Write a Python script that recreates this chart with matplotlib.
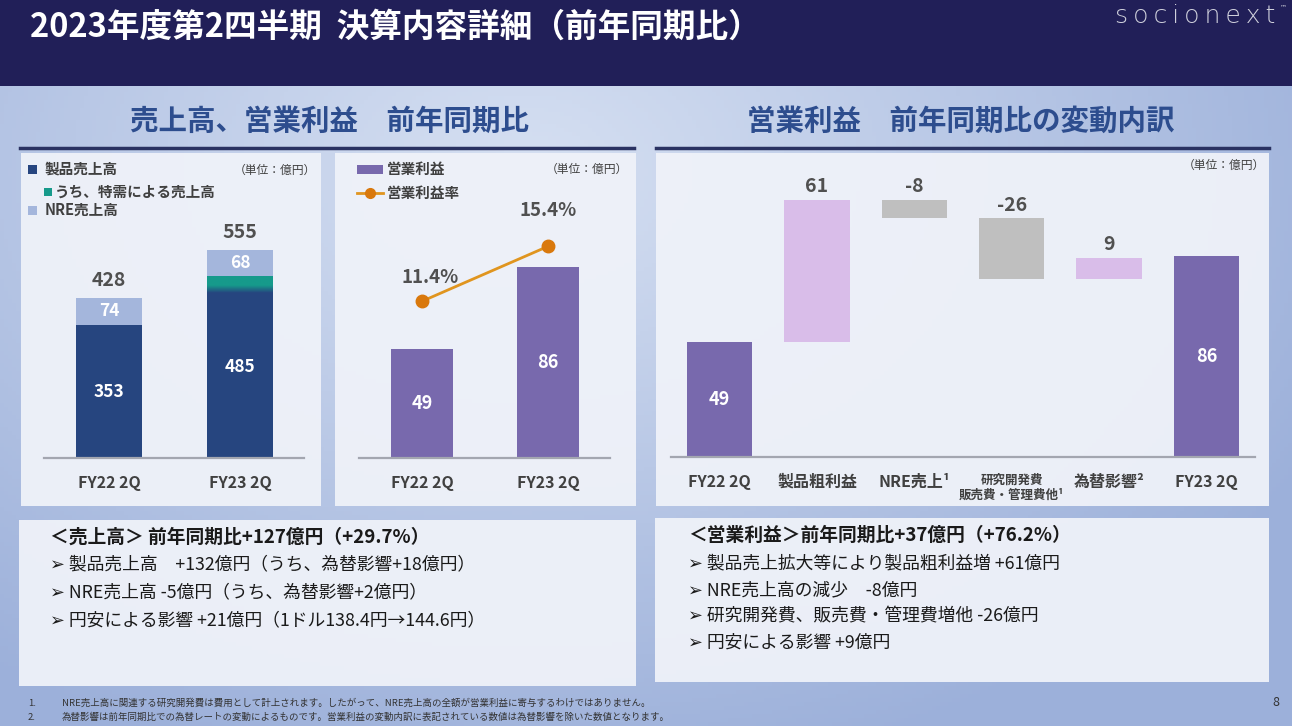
import matplotlib.pyplot as plt
import numpy as np
from matplotlib.patches import Rectangle
from matplotlib.colors import to_rgb

plt.rcParams['font.family'] = ['Noto Sans CJK JP', 'DejaVu Sans']

# ---- data ----
periods = ['FY22 2Q', 'FY23 2Q']
product_sales = [353, 485]
special_demand = [0, 45]      # part of product sales, drawn as a band
nre_sales = [74, 68]
total_sales = [428, 555]

op_income = [49, 86]
op_margin = [11.4, 15.4]

bridge_labels = ['FY22 2Q', '製品粗利益', 'NRE売上¹', '研究開発費\n販売費・管理費他¹', '為替影響²', 'FY23 2Q']
bridge_values = [49, 61, -8, -26, 9, 86]

sales_notes = ['＜売上高＞ 前年同期比+127億円（+29.7%）',
               '➢ 製品売上高　+132億円（うち、為替影響+18億円）',
               '➢ NRE売上高 -5億円（うち、為替影響+2億円）',
               '➢ 円安による影響 +21億円（1ドル138.4円→144.6円）']
profit_notes = ['＜営業利益＞前年同期比+37億円（+76.2%）',
                '➢ 製品売上拡大等により製品粗利益増 +61億円',
                '➢ NRE売上高の減少　-8億円',
                '➢ 研究開発費、販売費・管理費増他 -26億円',
                '➢ 円安による影響 +9億円']
footnotes = ['NRE売上高に関連する研究開発費は費用として計上されます。したがって、NRE売上高の全額が営業利益に寄与するわけではありません。',
             '為替影響は前年同期比での為替レートの変動によるものです。営業利益の変動内訳に表記されている数値は為替影響を除いた数値となります。']

# ---- colours ----
navy = '#26457f'
teal = '#169a8b'
nre_blue = '#a4b6dc'
purple = '#7869ad'
up_col = '#d9bde9'
down_col = '#bfbfbf'
line_col = '#e0951f'
dark = '#404040'
axis_col = '#a3a6b0'

W, H = 1292, 726
fig = plt.figure(figsize=(W / 100, H / 100), dpi=100)

bg = fig.add_axes([0, 0, 1, 1])
yy, xx = np.mgrid[0:H:4, 0:W:4]
d = np.clip(np.sqrt(((xx - 520) / 900) ** 2 + ((yy - 170) / 620) ** 2), 0, 1)
c_in, c_out = np.array(to_rgb('#d6e0f2')), np.array(to_rgb('#9cb0da'))
bg.imshow(c_in + (c_out - c_in) * d[..., None], extent=(0, W, H, 0), aspect='auto', zorder=0)
bg.set_xlim(0, W)
bg.set_ylim(H, 0)
bg.axis('off')

# header
bg.add_patch(Rectangle((0, 0), W, 86, fc='#211f58', ec='none', zorder=1))
bg.text(30, 27, '2023年度第2四半期  決算内容詳細（前年同期比）', color='white',
        fontsize=23.5, fontweight='bold', va='center', zorder=2)
bg.text(1115, 16, '\u2009'.join('socionext'), color='#cfd0dc', fontsize=18, family='DejaVu Sans',
        fontweight='light', va='center', zorder=2)
bg.text(1280, 7, '™', color='#cfd0dc', fontsize=5, family='DejaVu Sans', va='center', zorder=2)

# section titles
for cx, t in [(330, '売上高、営業利益　前年同期比'), (961, '営業利益　前年同期比の変動内訳')]:
    bg.text(cx, 122, t, color='#2d4d8e', fontsize=20.5, fontweight='bold', ha='center', va='center')
bg.plot([20, 634], [148, 148], color='#2a3262', lw=2.5)
bg.plot([656, 1269], [148, 148], color='#2a3262', lw=2.5)

# panels
for x0, y0, x1, y1 in [(21, 153, 321, 506), (335, 153, 636, 506), (656, 153, 1269, 506),
                       (19, 520, 636, 686), (655, 518, 1269, 682)]:
    bg.add_patch(Rectangle((x0, y0), x1 - x0, y1 - y0, fc='#eff2f9', ec='none', alpha=0.95, zorder=1))


def px_axes(x0, y0, x1, y1):
    a = fig.add_axes([x0 / W, 1 - y1 / H, (x1 - x0) / W, (y1 - y0) / H])
    a.set_facecolor('none')
    for s in ['top', 'left', 'right']:
        a.spines[s].set_visible(False)
    a.spines['bottom'].set_color(axis_col)
    a.spines['bottom'].set_linewidth(1.6)
    a.set_yticks([])
    a.tick_params(axis='x', length=0, pad=12, labelsize=11.5, labelcolor=dark)
    return a


# ---- chart 1: sales ----
ax1 = px_axes(44, 160, 304, 458)
x = np.arange(len(periods))
ax1.bar(x, product_sales, 0.5, color=navy, zorder=2)
ax1.bar(x, nre_sales, 0.5, bottom=product_sales, color=nre_blue, zorder=2)
for i in x:
    if special_demand[i] > 0:
        n = 40
        t = np.linspace(0, 1, n)
        k = np.clip(t / 0.45, 0, 1)[:, None]
        grad = np.array(to_rgb(navy)) * (1 - k) + np.array(to_rgb(teal)) * k
        ax1.imshow(grad[:, None, :], extent=(i - 0.25, i + 0.25, product_sales[i] - special_demand[i], product_sales[i]),
                   origin='lower', aspect='auto', zorder=3, interpolation='bilinear')
    ax1.text(i, product_sales[i] / 2, str(product_sales[i]), color='white', fontsize=12.5,
             fontweight='bold', ha='center', va='center', zorder=4)
    ax1.text(i, product_sales[i] + nre_sales[i] / 2, str(nre_sales[i]), color='white', fontsize=12.5,
             fontweight='bold', ha='center', va='center', zorder=4)
    ax1.annotate(str(total_sales[i]), (i, total_sales[i]), xytext=(0, 12), textcoords='offset points',
                 ha='center', va='center', fontsize=14, fontweight='bold', color='#505050')
ax1.set_xlim(-0.496, 1.489)
ax1.set_ylim(0, 298 / 0.3757)
ax1.set_xticks(x, periods, fontweight='bold')

bg.add_patch(Rectangle((28, 165), 9, 9, fc=navy, ec='none', zorder=2))
bg.add_patch(Rectangle((44, 188), 8, 8, fc=teal, ec='none', zorder=2))
bg.add_patch(Rectangle((28, 206), 9, 9, fc=nre_blue, ec='none', zorder=2))
bg.text(45, 169, '製品売上高', fontsize=10.5, fontweight='bold', color=dark, va='center', zorder=2)
bg.text(55, 192, 'うち、特需による売上高', fontsize=10.5, fontweight='bold', color=dark, va='center', zorder=2)
bg.text(45, 210, 'NRE売上高', fontsize=10.5, fontweight='bold', color=dark, va='center', zorder=2)
bg.text(316, 170, '（単位：億円）', fontsize=8.5, color=dark, ha='right', va='center', zorder=2)

# ---- chart 2: operating income ----
ax2 = px_axes(359, 160, 610, 458)
ax2.bar(x, op_income, 0.49, color=purple, zorder=2)
for i in x:
    ax2.text(i, op_income[i] / 2, str(op_income[i]), color='white', fontsize=13,
             fontweight='bold', ha='center', va='center')
ax2.set_xlim(-0.5, 1.49)
ax2.set_ylim(0, 298 / 2.22)
ax2.set_xticks(x, periods, fontweight='bold')
ax2b = ax2.twinx()
ax2b.set_ylim(0, 298 / 13.75)
ax2b.axis('off')
ax2b.plot(x, op_margin, color=line_col, lw=2, marker='o', ms=9, mfc='#d9780c', mec='#d9780c')
for i, off in zip(x, [(6, 17), (0, 26)]):
    ax2b.annotate(f'{op_margin[i]}%', (i, op_margin[i]), xytext=off, textcoords='offset points',
                  ha='center', va='center', fontsize=13.5, fontweight='bold', color='#505050')

bg.add_patch(Rectangle((357, 165), 26, 9, fc=purple, ec='none', zorder=2))
bg.plot([357, 383], [193, 193], color=line_col, lw=2, zorder=2)
bg.plot([370], [193], 'o', ms=7, color='#d9780c', zorder=3)
bg.text(387, 169, '営業利益', fontsize=10.5, fontweight='bold', color=dark, va='center', zorder=2)
bg.text(387, 193, '営業利益率', fontsize=10.5, fontweight='bold', color=dark, va='center', zorder=2)
bg.text(628, 169, '（単位：億円）', fontsize=8.5, color=dark, ha='right', va='center', zorder=2)

# ---- chart 3: bridge ----
ax3 = px_axes(671, 160, 1255, 457)
bx = np.arange(len(bridge_values))
running = 0
for i, v in enumerate(bridge_values):
    if i == 0 or i == len(bridge_values) - 1:
        ax3.bar(i, v, 0.67, color=purple, zorder=2)
        ax3.text(i, v / 2, str(v), color='white', fontsize=13, fontweight='bold', ha='center', va='center')
        running = v
    else:
        bottom = running if v > 0 else running + v
        ax3.bar(i, abs(v), 0.67, bottom=bottom, color=up_col if v > 0 else down_col, zorder=2)
        ax3.annotate(str(v), (i, bottom + abs(v)), xytext=(0, 9.5), textcoords='offset points',
                     ha='center', va='center', fontsize=14, fontweight='bold', color='#505050')
        running += v
ax3.set_xlim(-0.5, 5.5)
ax3.set_ylim(0, 297 / 2.34)
ax3.set_xticks(bx, bridge_labels, fontweight='bold')
ax3.get_xticklabels()[3].set_fontsize(9)
bg.text(1265, 165, '（単位：億円）', fontsize=8.5, color=dark, ha='right', va='center', zorder=2)

# ---- text boxes ----
for j, (t, y) in enumerate(zip(sales_notes, [537, 564, 592, 620])):
    bg.text(50, y, t, fontsize=13.5 if j == 0 else 12.8, color='#1a1a1a', va='center', zorder=2,
            fontweight='bold' if j == 0 else 'normal')
for j, (t, y) in enumerate(zip(profit_notes, [535, 563, 590, 616, 643])):
    bg.text(688, y, t, fontsize=13.5 if j == 0 else 12.8, color='#1a1a1a', va='center', zorder=2,
            fontweight='bold' if j == 0 else 'normal')

for j, (t, y) in enumerate(zip(footnotes, [703, 717])):
    bg.text(28, y, f'{j + 1}.', fontsize=6.8, color='#333333', va='center')
    bg.text(62, y, t, fontsize=6.8, color='#333333', va='center')
bg.text(1276, 703, '8', fontsize=9, color='#333333', ha='center', va='center')

fig.savefig('out.png', dpi=100)
